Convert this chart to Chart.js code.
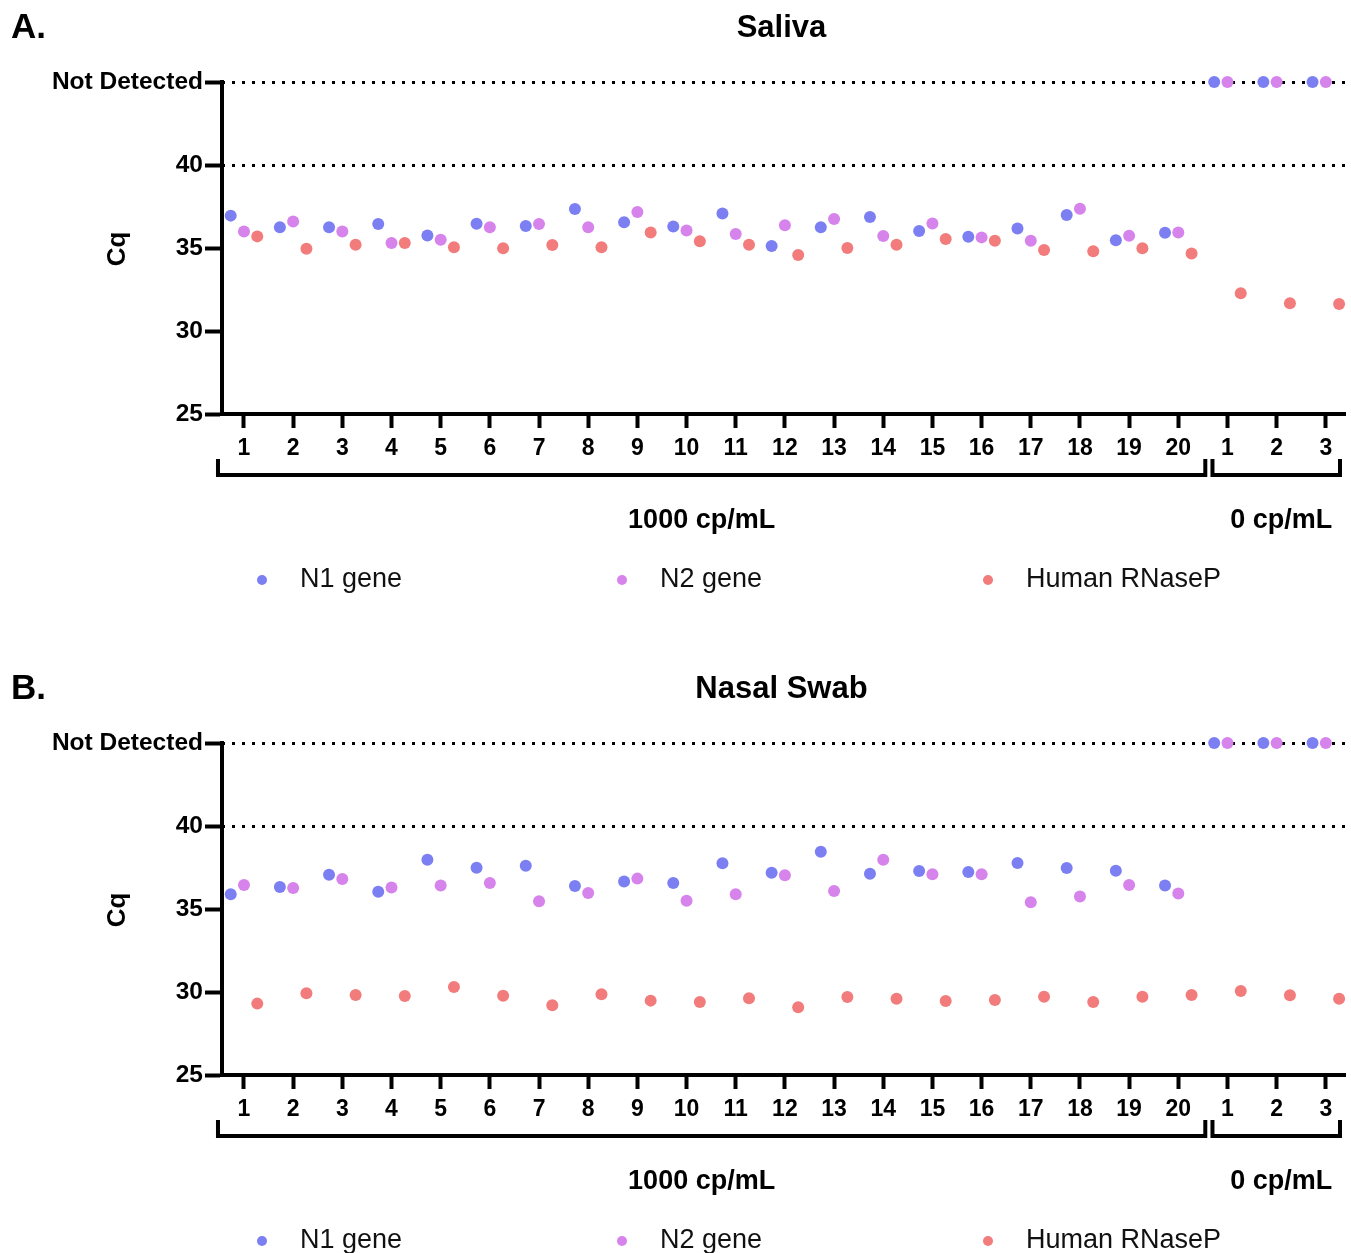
<!DOCTYPE html>
<html>
<head>
<meta charset="utf-8">
<title>Cq by sample</title>
<script src="https://cdn.jsdelivr.net/npm/chart.js@4.4.1/dist/chart.umd.min.js"></script>
<style>
  html, body { margin: 0; padding: 0; background: #fff; overflow: hidden; }
  canvas { display: block; }
</style>
</head>
<body>
<canvas id="salivaChart" width="1351" height="661"></canvas>
<canvas id="nasalChart" width="1351" height="661"></canvas>
<script>
// "Not Detected" is plotted on its own row at the top of the axis
const ND = 45;

// x categories: 20 samples at 1000 cp/mL, then 3 blanks at 0 cp/mL
const categories = ['1', '2', '3', '4', '5', '6', '7', '8', '9', '10',
  '11', '12', '13', '14', '15', '16', '17', '18', '19', '20', '1', '2', '3'];
const groups = [
  { label: '1000 cp/mL', from: 1, to: 20 },
  { label: '0 cp/mL', from: 21, to: 23 },
];
const yTicks = [25, 30, 35, 40, ND];
const seriesNames = ['N1 gene', 'N2 gene', 'Human RNaseP'];
const seriesColors = ['#7c7ff2', '#d683ec', '#f27c7c'];

// A. Saliva
const salivaN1 = [36.95, 36.25, 36.25, 36.45, 35.76, 36.46, 36.33, 37.35, 36.55, 36.3,
  37.08, 35.12, 36.25, 36.87, 36.02, 35.68, 36.18, 36.99, 35.46, 35.92, ND, ND, ND];
const salivaN2 = [36.0, 36.6, 36.0, 35.3, 35.5, 36.25, 36.45, 36.25, 37.17, 36.05,
  35.84, 36.37, 36.75, 35.72, 36.48, 35.64, 35.44, 37.37, 35.74, 35.94, ND, ND, ND];
const salivaRP = [35.7, 34.96, 35.2, 35.3, 35.04, 34.98, 35.18, 35.04, 35.94, 35.4,
  35.2, 34.58, 35.0, 35.2, 35.54, 35.44, 34.88, 34.8, 34.98, 34.67, 32.27, 31.67, 31.63];

// B. Nasal swab
const nasalN1 = [35.89, 36.33, 37.07, 36.04, 37.97, 37.49, 37.61, 36.39, 36.65, 36.57,
  37.75, 37.19, 38.45, 37.13, 37.29, 37.23, 37.77, 37.47, 37.31, 36.41, ND, ND, ND];
const nasalN2 = [36.45, 36.27, 36.81, 36.3, 36.41, 36.57, 35.46, 35.96, 36.83, 35.5,
  35.89, 37.03, 36.08, 37.97, 37.09, 37.09, 35.4, 35.76, 36.45, 35.93, ND, ND, ND];
const nasalRP = [29.3, 29.92, 29.82, 29.76, 30.3, 29.78, 29.2, 29.86, 29.48, 29.4,
  29.62, 29.08, 29.7, 29.6, 29.46, 29.52, 29.72, 29.4, 29.72, 29.82, 30.06, 29.8, 29.6];

const FONT = "'Liberation Sans', Arial, Helvetica, sans-serif";
const offsets = [-0.27, 0, 0.27]; // side-by-side spread inside a category

function toPoints(values, k) {
  return values.map((v, i) => ({ x: i + 1 + offsets[k], y: v }));
}

// titles, Cq label, group brackets and the legend row
const panelDecor = {
  id: 'panelDecor',
  afterDraw(chart, args, opts) {
    const ctx = chart.ctx;
    const area = chart.chartArea;
    const xs = chart.scales.x;
    ctx.save();
    ctx.fillStyle = '#000';
    ctx.textBaseline = 'middle';

    ctx.font = 'bold 35px ' + FONT;
    ctx.textAlign = 'left';
    ctx.fillText(opts.letter, 11, 28);

    ctx.font = 'bold 31px ' + FONT;
    ctx.textAlign = 'center';
    ctx.fillText(opts.title, (area.left + area.right) / 2 - 2, 28);

    ctx.save();
    ctx.translate(118, (area.top + area.bottom) / 2 + 1);
    ctx.rotate(-Math.PI / 2);
    ctx.font = 'bold 26px ' + FONT;
    ctx.fillText('Cq', 0, 0);
    ctx.restore();

    // brackets under the x labels
    ctx.strokeStyle = '#000';
    ctx.lineWidth = 4;
    ctx.lineCap = 'butt';
    const by = area.bottom + 61;
    groups.forEach((g, gi) => {
      const x1 = gi === 0 ? xs.getPixelForValue(g.from) - 26 : xs.getPixelForValue(g.from) - 15;
      const x2 = gi === 0 ? xs.getPixelForValue(g.to) + 27 : area.right - 5;
      ctx.beginPath();
      ctx.moveTo(x1, by - 16);
      ctx.lineTo(x1, by);
      ctx.lineTo(x2, by);
      ctx.lineTo(x2, by - 16);
      ctx.stroke();
      ctx.font = 'bold 27px ' + FONT;
      ctx.textAlign = 'center';
      const cx = gi === 0 ? (x1 + x2) / 2 - 10 : (x1 + x2) / 2 + 5;
      ctx.fillText(g.label, cx, area.bottom + 107);
    });

    // legend
    const lx = [262, 622, 988];
    const ly = area.bottom + 166;
    chart.data.datasets.forEach((ds, i) => {
      ctx.fillStyle = ds.pointBackgroundColor;
      ctx.beginPath();
      ctx.arc(lx[i], ly, 5, 0, Math.PI * 2);
      ctx.fill();
      ctx.fillStyle = '#111';
      ctx.font = '27px ' + FONT;
      ctx.textAlign = 'left';
      ctx.fillText(ds.label, lx[i] + 38, ly);
    });
    ctx.restore();
  }
};

function makeChart(canvasId, letter, title, n1, n2, rp) {
  const ctx = document.getElementById(canvasId).getContext('2d');
  return new Chart(ctx, {
    type: 'scatter',
    data: {
      datasets: [n1, n2, rp].map((vals, k) => ({
        label: seriesNames[k],
        data: toPoints(vals, k),
        pointBackgroundColor: seriesColors[k],
        pointBorderColor: seriesColors[k],
        pointRadius: 6,
        pointBorderWidth: 0,
        showLine: false,
        clip: false,
      })),
    },
    options: {
      responsive: false,
      animation: false,
      events: [],
      layout: { padding: { left: 0, right: 6, top: 82, bottom: 0 } },
      plugins: {
        legend: { display: false },
        tooltip: { enabled: false },
        panelDecor: { letter: letter, title: title },
      },
      scales: {
        x: {
          type: 'linear',
          min: 0.553,
          max: 23.39,
          afterBuildTicks: (scale) => {
            scale.ticks = categories.map((c, i) => ({ value: i + 1 }));
          },
          afterFit: (scale) => { scale.height = 247; },
          ticks: {
            autoSkip: false,
            maxRotation: 0,
            padding: 7,
            color: '#000',
            font: { family: FONT, size: 23, weight: 'bold' },
            callback: (v) => categories[Math.round(v) - 1],
          },
          grid: {
            drawOnChartArea: false,
            drawTicks: true,
            tickLength: 14,
            tickWidth: 4,
            tickColor: '#000',
          },
          border: { display: true, color: '#000', width: 4 },
        },
        y: {
          min: 25,
          max: ND,
          z: 1,
          afterBuildTicks: (scale) => {
            scale.ticks = yTicks.map((v) => ({ value: v }));
          },
          afterFit: (scale) => { scale.width = 222; },
          ticks: {
            padding: 2,
            color: '#000',
            font: { family: FONT, size: 24.5, weight: 'bold' },
            callback: (v) => (v === ND ? 'Not Detected' : v),
          },
          grid: {
            drawOnChartArea: true,
            drawTicks: true,
            tickLength: 17,
            tickWidth: 4,
            tickColor: '#000',
            lineWidth: 3,
            color: (c) => (c.tick && c.tick.value >= 40 ? '#000' : 'rgba(0,0,0,0)'),
          },
          border: { display: true, color: '#000', width: 4, dash: [3, 7], dashOffset: -8 },
        },
      },
    },
    plugins: [panelDecor],
  });
}

makeChart('salivaChart', 'A.', 'Saliva', salivaN1, salivaN2, salivaRP);
makeChart('nasalChart', 'B.', 'Nasal Swab', nasalN1, nasalN2, nasalRP);
</script>
</body>
</html>
